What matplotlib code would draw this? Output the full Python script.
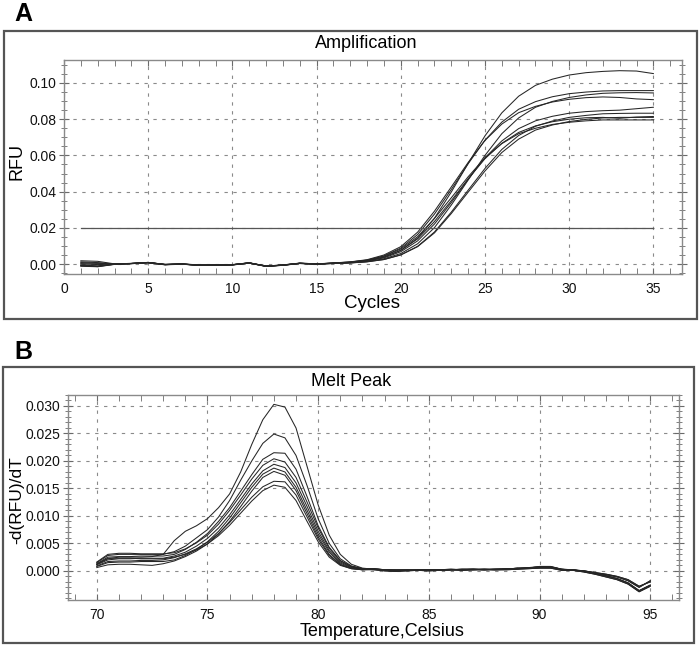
import numpy as np
import matplotlib
matplotlib.use("Agg")
import matplotlib.pyplot as plt
from matplotlib.patches import Rectangle
from matplotlib.ticker import MultipleLocator, FormatStrFormatter

plt.rcParams['font.family'] = ['Liberation Sans', 'DejaVu Sans']

# ---------------- Data: Amplification (RFU per cycle 1..35) ----------------
cycles = list(range(1, 36))
amp_A = [0.0018, 0.0015, 0.0001, 0.0003, 0.0009, -0.0002, 0.0001, -0.0005, -0.0006, -0.0003, 0.0007, -0.0011, -0.0005, 0.0005, 0.0001,
         0.0005, 0.0009, 0.0019, 0.0038, 0.0076, 0.0143, 0.0253, 0.0398, 0.0556, 0.0708, 0.0835, 0.0927, 0.0987, 0.1021, 0.1044, 0.1057, 0.1064, 0.1068, 0.1066, 0.1052]
amp_B = [0.0012, 0.0008, 0.0000, 0.0002, 0.0008, -0.0003, 0.0000, -0.0006, -0.0005, -0.0004, 0.0006, -0.0012, -0.0006, 0.0004, 0.0000,
         0.0006, 0.0011, 0.0022, 0.0045, 0.0088, 0.0163, 0.0276, 0.0412, 0.0554, 0.0684, 0.0784, 0.0855, 0.0897, 0.0924, 0.0941, 0.0950, 0.0956, 0.0958, 0.0958, 0.0958]
amp_C = [-0.0010, -0.0014, -0.0001, 0.0003, 0.0007, -0.0004, 0.0000, -0.0007, -0.0007, -0.0005, 0.0005, -0.0013, -0.0007, 0.0003, -0.0001,
         0.0004, 0.0007, 0.0014, 0.0029, 0.0058, 0.0112, 0.0201, 0.0326, 0.0464, 0.0600, 0.0720, 0.0807, 0.0866, 0.0898, 0.0920, 0.0934, 0.0943, 0.0946, 0.0947, 0.0945]
amp_D = [-0.0005, -0.0010, 0.0000, 0.0004, 0.0009, -0.0002, 0.0001, -0.0006, -0.0005, -0.0004, 0.0007, -0.0011, -0.0005, 0.0005, 0.0001,
         0.0006, 0.0012, 0.0024, 0.0050, 0.0096, 0.0176, 0.0292, 0.0426, 0.0561, 0.0683, 0.0773, 0.0836, 0.0871, 0.0895, 0.0910, 0.0919, 0.0923, 0.0920, 0.0912, 0.0908]
amp_E = [0.0000, 0.0002, 0.0000, 0.0003, 0.0008, -0.0003, -0.0001, -0.0006, -0.0006, -0.0004, 0.0006, -0.0012, -0.0006, 0.0004, 0.0000,
         0.0004, 0.0009, 0.0017, 0.0034, 0.0068, 0.0128, 0.0221, 0.0340, 0.0468, 0.0587, 0.0680, 0.0748, 0.0791, 0.0816, 0.0833, 0.0842, 0.0847, 0.0850, 0.0858, 0.0866]
amp_F = [-0.0012, -0.0015, -0.0002, 0.0002, 0.0007, -0.0004, -0.0001, -0.0007, -0.0007, -0.0005, 0.0005, -0.0013, -0.0007, 0.0003, -0.0001,
         0.0003, 0.0006, 0.0013, 0.0025, 0.0051, 0.0098, 0.0177, 0.0287, 0.0408, 0.0528, 0.0633, 0.0710, 0.0761, 0.0790, 0.0810, 0.0821, 0.0830, 0.0832, 0.0833, 0.0833]
amp_G = [0.0008, 0.0005, 0.0000, 0.0003, 0.0008, -0.0002, 0.0000, -0.0006, -0.0006, -0.0004, 0.0006, -0.0012, -0.0006, 0.0004, 0.0000,
         0.0005, 0.0009, 0.0019, 0.0038, 0.0075, 0.0139, 0.0235, 0.0350, 0.0471, 0.0582, 0.0667, 0.0727, 0.0763, 0.0786, 0.0800, 0.0808, 0.0810, 0.0805, 0.0812, 0.0815]
amp_H = [-0.0008, -0.0012, -0.0001, 0.0003, 0.0008, -0.0003, 0.0000, -0.0006, -0.0006, -0.0004, 0.0006, -0.0012, -0.0006, 0.0004, 0.0000,
         0.0003, 0.0006, 0.0012, 0.0025, 0.0050, 0.0096, 0.0172, 0.0279, 0.0397, 0.0514, 0.0616, 0.0690, 0.0740, 0.0768, 0.0787, 0.0799, 0.0807, 0.0810, 0.0810, 0.0810]
amp_I = [0.0002, -0.0003, 0.0000, 0.0003, 0.0009, -0.0003, 0.0000, -0.0007, -0.0006, -0.0004, 0.0006, -0.0012, -0.0006, 0.0004, 0.0000,
         0.0005, 0.0011, 0.0021, 0.0043, 0.0083, 0.0151, 0.0252, 0.0366, 0.0482, 0.0587, 0.0665, 0.0720, 0.0750, 0.0771, 0.0783, 0.0791, 0.0796, 0.0796, 0.0796, 0.0796]
amp_curves = [amp_A, amp_B, amp_C, amp_D, amp_E, amp_F, amp_G, amp_H, amp_I]
threshold = 0.02
threshold_range = [1, 35]

# ---------------- Data: Melt peak (-d(RFU)/dT, 70..95 step 0.5) ----------------
temps = np.arange(70.0, 95.01, 0.5)
melt_1 = [.0012, .0022, .0025, .0025, .0025, .0026, .0030, .0055, .0072, .0082, .0095, .0115, .0140, .0180, .0230, .0275, .0303, .0298, .0260, .0190, .0120, .0065, .0030, .0012, .0005,
          .0003, .0002, .0002, .0002, .0001, .0001, .0002, .0003, .0002, .0003, .0003, .0003, .0004, .0004, .0006, .0007, .0007, .0003, .0002, .0000, -.0004, -.0007, -.0011, -.0018, -.0030, -.0018]
melt_2 = [.0015, .0028, .0030, .0030, .0030, .0030, .0030, .0035, .0045, .0060, .0075, .0098, .0128, .0165, .0200, .0232, .0249, .0242, .0210, .0155, .0095, .0050, .0022, .0009, .0004,
          .0004, .0002, .0001, .0001, .0002, .0002, .0002, .0002, .0003, .0003, .0002, .0003, .0003, .0005, .0005, .0006, .0006, .0002, .0002, -.0001, -.0005, -.0009, -.0014, -.0022, -.0036, -.0026]
melt_3 = [.0013, .0025, .0026, .0026, .0027, .0027, .0027, .0030, .0039, .0052, .0068, .0090, .0115, .0145, .0175, .0203, .0215, .0214, .0185, .0135, .0082, .0043, .0019, .0008, .0004,
          .0002, .0001, .0000, .0001, .0001, .0000, .0001, .0002, .0002, .0002, .0003, .0002, .0003, .0004, .0005, .0008, .0008, .0003, .0001, .0000, -.0003, -.0006, -.0010, -.0016, -.0028, -.0020]
melt_4 = [.0016, .0030, .0032, .0032, .0031, .0031, .0031, .0033, .0040, .0051, .0065, .0085, .0110, .0138, .0167, .0192, .0204, .0198, .0170, .0125, .0078, .0041, .0018, .0008, .0004,
          .0003, .0000, -.0001, .0000, .0001, .0001, .0001, .0002, .0001, .0002, .0002, .0002, .0002, .0003, .0004, .0005, .0005, .0001, .0001, -.0002, -.0006, -.0011, -.0016, -.0024, -.0038, -.0028]
melt_5 = [.0011, .0020, .0022, .0022, .0023, .0023, .0023, .0027, .0034, .0045, .0059, .0078, .0102, .0130, .0158, .0182, .0194, .0188, .0160, .0117, .0072, .0037, .0016, .0007, .0003,
          .0003, .0002, .0002, .0002, .0001, .0001, .0002, .0003, .0002, .0003, .0003, .0003, .0004, .0004, .0006, .0007, .0007, .0003, .0002, .0000, -.0004, -.0007, -.0011, -.0018, -.0030, -.0018]
melt_6 = [.0008, .0015, .0016, .0016, .0017, .0017, .0017, .0020, .0028, .0039, .0053, .0072, .0096, .0124, .0152, .0176, .0187, .0180, .0152, .0110, .0067, .0034, .0014, .0006, .0003,
          .0004, .0002, .0001, .0001, .0002, .0002, .0002, .0002, .0003, .0003, .0002, .0003, .0003, .0005, .0005, .0006, .0006, .0002, .0002, -.0001, -.0005, -.0009, -.0014, -.0022, -.0036, -.0026]
melt_7 = [.0006, .0011, .0012, .0012, .0011, .0010, .0013, .0018, .0026, .0036, .0049, .0067, .0090, .0117, .0145, .0170, .0181, .0174, .0146, .0104, .0062, .0030, .0012, .0005, .0002,
          .0002, .0001, .0000, .0001, .0001, .0000, .0001, .0002, .0002, .0002, .0003, .0002, .0003, .0004, .0005, .0008, .0008, .0003, .0001, .0000, -.0003, -.0006, -.0010, -.0016, -.0028, -.0020]
melt_8 = [.0009, .0017, .0018, .0018, .0019, .0019, .0020, .0024, .0031, .0040, .0052, .0068, .0088, .0111, .0134, .0153, .0163, .0162, .0138, .0098, .0058, .0028, .0011, .0004, .0002,
          .0003, .0000, -.0001, .0000, .0001, .0001, .0001, .0002, .0001, .0002, .0002, .0002, .0002, .0003, .0004, .0005, .0005, .0001, .0001, -.0002, -.0006, -.0011, -.0016, -.0024, -.0038, -.0028]
melt_9 = [.0012, .0023, .0023, .0023, .0022, .0022, .0022, .0025, .0030, .0038, .0049, .0064, .0083, .0105, .0127, .0146, .0156, .0152, .0128, .0090, .0053, .0025, .0010, .0004, .0002,
          .0004, .0002, .0001, .0001, .0002, .0002, .0002, .0002, .0003, .0003, .0002, .0003, .0003, .0005, .0005, .0006, .0006, .0002, .0002, -.0001, -.0005, -.0009, -.0014, -.0022, -.0036, -.0026]
melt_curves = [melt_1, melt_2, melt_3, melt_4, melt_5, melt_6, melt_7, melt_8, melt_9]

amp_yticks = [0.00, 0.02, 0.04, 0.06, 0.08, 0.10]
amp_xticks = [0, 5, 10, 15, 20, 25, 30, 35]
melt_yticks = [0.000, 0.005, 0.010, 0.015, 0.020, 0.025, 0.030]
melt_xticks = [70, 75, 80, 85, 90, 95]

# ---------------- Figure ----------------
W, H = 700, 646
fig = plt.figure(figsize=(W / 100, H / 100), dpi=100)

def fx(px):
    return px / W

def fy(py):
    return 1 - py / H

def axes_rect(l, t, r, b):
    return [fx(l), fy(b), (r - l) / W, (b - t) / H]

axA = fig.add_axes(axes_rect(64, 60, 682, 274))
axB = fig.add_axes(axes_rect(68, 395, 679, 600))

# outer frames
fig.add_artist(Rectangle((fx(4), fy(319)), 693 / W, 288 / H, transform=fig.transFigure,
                         fill=False, ec='#555555', lw=1.6))
fig.add_artist(Rectangle((fx(3), fy(643)), 691 / W, 276 / H, transform=fig.transFigure,
                         fill=False, ec='#555555', lw=1.6))

grid_kw = dict(color='#8a8a8a', lw=0.8, ls=(0, (3, 5)))
line_color = '#262626'
line_w = 0.75

def style_axes(ax):
    for s in ax.spines.values():
        s.set_color('#8a8a8a')
        s.set_linewidth(1.0)
    ax.tick_params(axis='both', which='both', colors='#6a6a6a', labelcolor='#111111',
                   labelsize=10, top=True, right=True)
    ax.tick_params(axis='x', which='major', direction='in', length=4, pad=6)
    ax.tick_params(axis='x', which='minor', direction='in', length=4)
    ax.tick_params(axis='y', which='major', direction='inout', length=7, pad=2)
    ax.tick_params(axis='y', which='minor', direction='inout', length=5)
    ax.grid(which='major', **grid_kw)
    ax.set_axisbelow(True)

# ---- Panel A ----
for c in amp_curves:
    axA.plot(cycles, c, color=line_color, lw=line_w)
axA.plot(threshold_range, [threshold, threshold], color='#555555', lw=0.9)
axA.set_xlim(0, 36.7)
axA.set_ylim(-0.0055, 0.1127)
axA.set_xticks(amp_xticks)
axA.set_yticks(amp_yticks)
axA.xaxis.set_minor_locator(MultipleLocator(1))
axA.yaxis.set_minor_locator(MultipleLocator(0.005))
axA.yaxis.set_major_formatter(FormatStrFormatter('%.2f'))
style_axes(axA)

# ---- Panel B ----
for c in melt_curves:
    axB.plot(temps, c, color=line_color, lw=line_w)
axB.set_xlim(68.7, 96.3)
axB.set_ylim(-0.0053, 0.032)
axB.set_xticks(melt_xticks)
axB.set_yticks(melt_yticks)
axB.xaxis.set_minor_locator(MultipleLocator(1))
axB.yaxis.set_minor_locator(MultipleLocator(0.001))
axB.yaxis.set_major_formatter(FormatStrFormatter('%.3f'))
style_axes(axB)

# ---- Texts ----
fig.text(fx(14), fy(14), 'A', fontsize=18, fontweight='bold', va='center', ha='left')
fig.text(fx(14), fy(352), 'B', fontsize=18, fontweight='bold', va='center', ha='left')
fig.text(fx(366), fy(43), 'Amplification', fontsize=13, ha='center', va='center')
fig.text(fx(351), fy(381), 'Melt Peak', fontsize=13, ha='center', va='center')
fig.text(fx(372), fy(303), 'Cycles', fontsize=13.5, ha='center', va='center')
fig.text(fx(382), fy(632), 'Temperature,Celsius', fontsize=13, ha='center', va='center')
fig.text(fx(17), fy(162), 'RFU', fontsize=13, ha='center', va='center', rotation=90)
fig.text(fx(17), fy(500), '-d(RFU)/dT', fontsize=12.5, ha='center', va='center', rotation=90)

fig.savefig('out.png', dpi=100)
